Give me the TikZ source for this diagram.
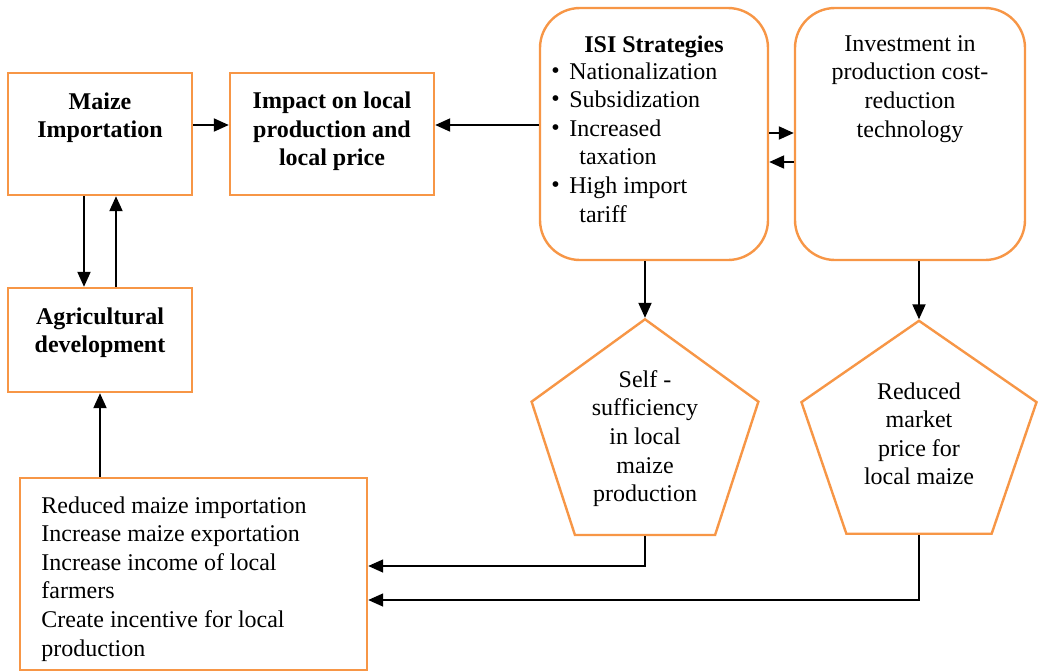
\documentclass[tikz,border=0pt]{standalone}
\usepackage{fontspec}
\setmainfont{Liberation Serif}
\usetikzlibrary{arrows.meta}
\usetikzlibrary{shapes.geometric}
\usetikzlibrary{positioning}

\definecolor{boxorange}{RGB}{247,150,70}
\newcommand{\blt}{\makebox[9pt][l]{\raisebox{0.5pt}{\textbullet}}}

\begin{document}
\begin{tikzpicture}[x=0.5pt,y=-0.5pt,
        font=\fontsize{12}{14.3}\selectfont,
        box/.style = {draw=boxorange,line width=1.2pt,fill=white,
            inner sep=0pt},
        rbox/.style = {box,rounded corners=20pt},
        pent/.style = {box,regular polygon,regular polygon sides=5,
            minimum size=117.7pt,align=center},
        txt/.style = {inner sep=0pt,align=center},
        edge/.style = {draw,line width=1pt,-{Triangle[length=7.5pt,width=6.5pt]}},
        thin edge/.style = {edge,line width=0.75pt}]
    \useasboundingbox (0,0) rectangle (1040,671);
    % boxes
    \node[box,minimum width=92pt,minimum height=61pt] (maize) at (100,134) {};
    \node[box,minimum width=102pt,minimum height=61pt] (impact) at (332,134) {};
    \node[box,minimum width=92pt,minimum height=52pt] (agri) at (100,340) {};
    \node[rbox,minimum width=114pt,minimum height=126pt] (isi) at (654,134) {};
    \node[rbox,minimum width=115pt,minimum height=126pt] (invest) at (910,134) {};
    \node[box,minimum width=173.5pt,minimum height=96pt] (gains) at (193.5,574) {};
    \node[pent] (self) at (645,438.5) {Self -\\sufficiency\\in local\\maize\\production};
    \node[pent,xscale=1.05] (price) at (919,438.5) {};
    % texts
    \node[txt,anchor=north,font=\fontsize{12}{14.3}\selectfont\bfseries] (maizetxt) at (100,92) {Maize\\Importation};
    \node[txt,anchor=north,font=\fontsize{12}{14.3}\selectfont\bfseries] (impacttxt) at (332,91.5) {Impact on local\\production and\\local price};
    \node[txt,anchor=north,font=\fontsize{12}{14.3}\selectfont\bfseries] (agritxt) at (100,307) {Agricultural\\development};
    \node[txt,anchor=north,font=\fontsize{12}{14.3}\selectfont\bfseries] (isititle) at (654,35) {ISI Strategies};
    \node[txt,anchor=north west,align=left] (isilist) at (551,62)
        {\blt Nationalization\\ \blt Subsidization\\ \blt Increased\\
         \hspace{14pt}taxation\\ \blt High import\\ \hspace{14pt}tariff};
    \node[txt,anchor=north] (investtxt) at (910,35)
        {Investment in\\production cost-\\reduction\\technology};
    \node[txt,anchor=north] (pricetxt) at (919,382)
        {Reduced\\market\\price for\\local maize};
    \node[txt,anchor=north west,align=left] (gainstxt) at (41,496)
        {Reduced maize importation\\Increase maize exportation\\
         Increase income of local\\farmers\\Create incentive for local\\production};
    % connectors
    \path[edge] ([yshift=4.5pt]maize.east) -- ([yshift=4.5pt]impact.west);
    \path[edge] ([yshift=4.5pt]isi.west) -- ([yshift=4.5pt]impact.east);
    \path[edge] ([yshift=0.5pt]isi.east) -- ([yshift=0.5pt]invest.west);
    \path[edge] ([yshift=-14pt]invest.west) -- ([yshift=-14pt]isi.east);
    \path[edge] ([xshift=-8pt]maize.south) -- ([xshift=-8pt]agri.north);
    \path[edge] ([xshift=8pt]agri.north) -- ([xshift=8pt]maize.south);
    \path[edge] (gains.north -| agri.south) -- (agri.south);
    \path[edge] (isi.south -| self.north) -- (self.north);
    \path[edge] (invest.south -| price.north) -- (price.north);
    \path[thin edge] (self.south) |- ([yshift=4pt]gains.east);
    \path[thin edge] (price.south) |- ([yshift=-13pt]gains.east);
\end{tikzpicture}
\end{document}
